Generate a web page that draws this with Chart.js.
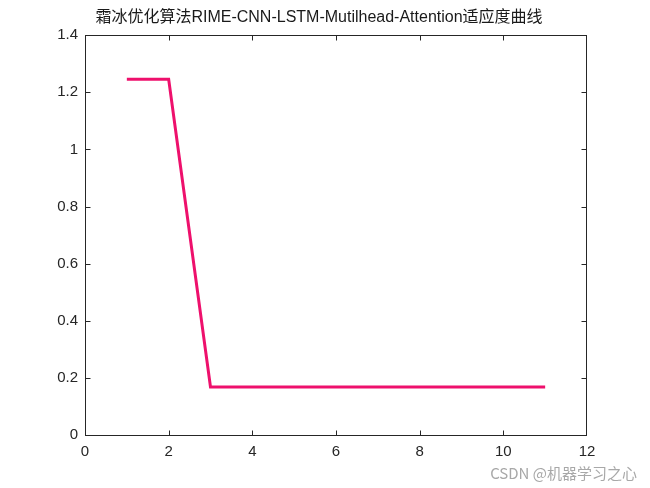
<!DOCTYPE html>
<html>
<head>
<meta charset="utf-8">
<script src="https://cdn.jsdelivr.net/npm/chart.js@4"></script>
<style>
  body { margin: 0; background: #fff; }
  #wrap { width: 650px; height: 488px; }
</style>
</head>
<body>
<div id="wrap"><canvas id="fit"></canvas></div>
<script>
const iterations = [1, 2, 3, 4, 5, 6, 7, 8, 9, 10, 11];
const fitness = [1.2456, 1.2456, 0.1684, 0.1684, 0.1684, 0.1684, 0.1684, 0.1684, 0.1684, 0.1684, 0.1684];
const xTicks = [0, 2, 4, 6, 8, 10, 12];
const yTicks = [0, 0.2, 0.4, 0.6, 0.8, 1, 1.2, 1.4];

const axisColor = '#262626';
const font = "'Liberation Sans', Arial, sans-serif";

// box round the axes + inward ticks on all four sides, like matlab
const boxPlugin = {
  id: 'box',
  afterDraw(chart) {
    const c = chart.ctx;
    const xs = chart.scales.x, ys = chart.scales.y;
    const L = Math.round(xs.getPixelForValue(0)) + 0.5;
    const R = Math.round(xs.getPixelForValue(12)) - 0.5;
    const B = Math.round(ys.getPixelForValue(0)) + 0.5;
    const T = Math.round(ys.getPixelForValue(1.4)) + 0.5;
    c.save();
    c.strokeStyle = axisColor;
    c.lineWidth = 1;
    c.strokeRect(L, T, R - L, B - T);
    c.beginPath();
    xTicks.forEach(v => {
      const px = Math.min(R, Math.round(xs.getPixelForValue(v)) + 0.5);
      c.moveTo(px, B); c.lineTo(px, B - 5);
      c.moveTo(px, T); c.lineTo(px, T + 5);
    });
    yTicks.forEach(v => {
      const py = Math.round(ys.getPixelForValue(v)) + 0.5;
      c.moveTo(L, py); c.lineTo(L + 5, py);
      c.moveTo(R, py); c.lineTo(R - 5, py);
    });
    c.stroke();
    // watermark
    c.fillStyle = '#a8a8a8';
    c.font = "15px 'Noto Sans CJK SC', sans-serif";
    c.textAlign = 'right';
    c.textBaseline = 'middle';
    c.fillText('CSDN @机器学习之心', 637, 473);
    c.restore();
  }
};

new Chart(document.getElementById('fit'), {
  type: 'line',
  data: {
    datasets: [{
      data: iterations.map((x, i) => ({ x: x, y: fitness[i] })),
      borderColor: 'rgb(238, 16, 108)',
      borderWidth: 3,
      pointRadius: 0,
      tension: 0,
      fill: false
    }]
  },
  options: {
    responsive: true,
    maintainAspectRatio: false,
    animation: false,
    layout: { padding: { left: 51, right: 63, top: 0, bottom: 0 } },
    plugins: {
      legend: { display: false },
      tooltip: { enabled: false },
      title: {
        display: true,
        text: '霜冰优化算法RIME-CNN-LSTM-Mutilhead-Attention适应度曲线',
        color: '#1a1a1a',
        font: { family: "'Liberation Sans', 'Noto Sans CJK SC', sans-serif", size: 16, weight: 'normal' },
        padding: { top: 8, bottom: 8 }
      }
    },
    scales: {
      x: {
        type: 'linear',
        min: 0, max: 12,
        afterBuildTicks: s => { s.ticks = xTicks.map(v => ({ value: v })); },
        afterFit: s => { s.height = 53; },
        grid: { display: false, drawTicks: false },
        border: { display: false },
        ticks: { color: axisColor, padding: 8, font: { family: font, size: 15 }, callback: v => String(v) }
      },
      y: {
        min: 0, max: 1.4,
        afterBuildTicks: s => { s.ticks = yTicks.map(v => ({ value: v })); },
        afterFit: s => { s.width = 34; },
        grid: { display: false, drawTicks: false },
        border: { display: false },
        ticks: { color: axisColor, padding: 7, font: { family: font, size: 15 }, callback: v => String(v) }
      }
    }
  },
  plugins: [boxPlugin]
});
</script>
</body>
</html>
